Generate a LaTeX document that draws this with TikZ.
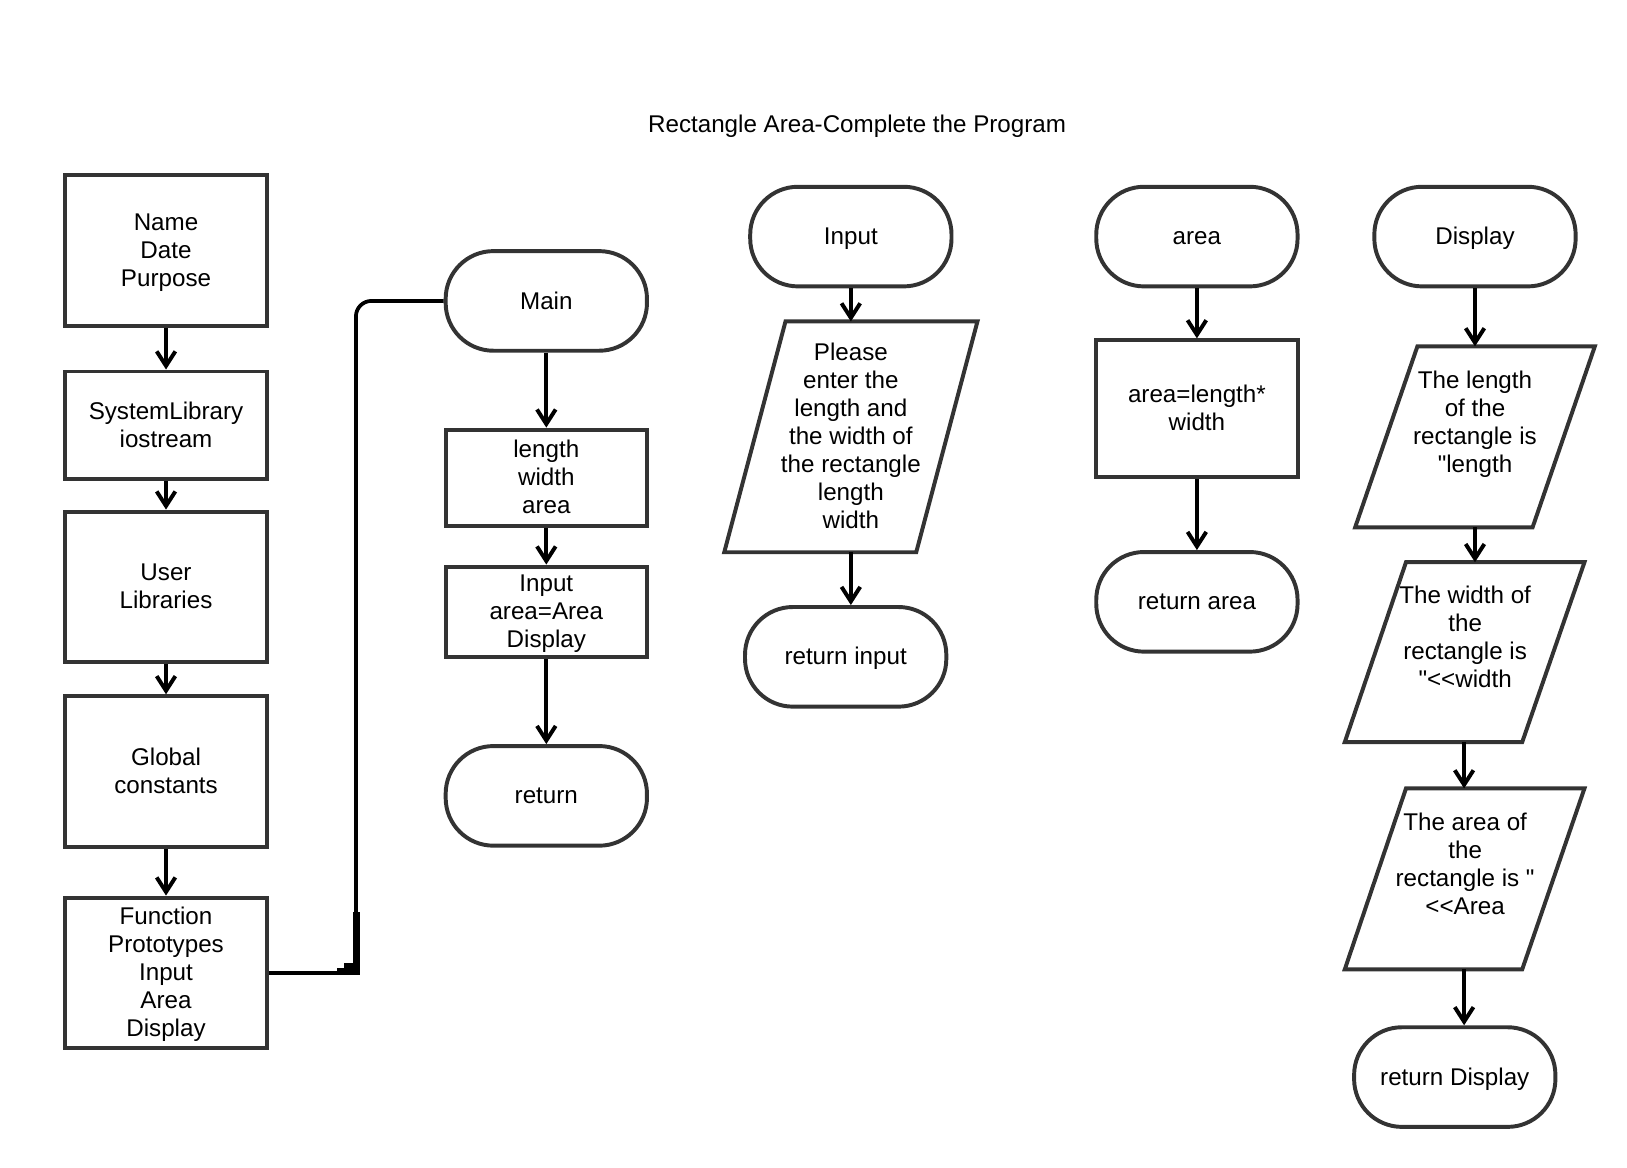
\documentclass[tikz,border=0pt]{standalone}
\usepackage{fontspec}
\setmainfont{Liberation Sans}[Ligatures=TeXOff]
\usetikzlibrary{arrows.meta}
\definecolor{stroke}{HTML}{333333}
\newcommand\drawpara[5]{\draw[pline] ([xshift=#2pt]#1.north) -- ([xshift=#3pt]#1.north) -- ([xshift=#5pt]#1.south) -- ([xshift=#4pt]#1.south) -- cycle;}
\newcommand\lb[1]{\rule{0pt}{21.3pt}#1\rule[-5.7pt]{0pt}{5.7pt}}
\begin{document}
\begin{tikzpicture}[x=1pt,y=-1pt,
  txt/.style={font=\fontsize{23.3}{27}\selectfont, align=center, text=black, inner sep=0pt},
  proc/.style={txt, draw=stroke, line width=3.8pt, minimum width=194pt},
  term/.style={proc, rounded corners=46pt, minimum height=96pt},
  parab/.style={txt, minimum width=20pt, minimum height=#1},
  pline/.style={draw=stroke, line width=3.8pt, line join=miter},
  flow/.style={line width=3.8pt, -{Straight Barb[length=14pt,width=18pt]}},
  conn/.style={line width=3.6pt},
]
\useasboundingbox (0,0) rectangle (1568,1125);

\node[txt] (title) at (826,120) {\lb{Rectangle Area-Complete the Program}};

% column 1
\node[proc, minimum height=145pt] (name) at (160,241.5) {\lb{Name\\Date\\Purpose}};
\node[proc, minimum height=104pt] (sys) at (160,410) {\lb{SystemLibrary\\iostream}};
\node[proc, minimum height=145pt] (user) at (160,565.5) {\lb{User\\Libraries}};
\node[proc, minimum height=145pt] (glob) at (160,743.5) {\lb{Global\\constants}};
\node[proc, minimum height=145pt] (func) at (160,937.5) {\lb{Function\\Prototypes\\Input\\Area\\Display}};

\draw[flow] (name.south) -- (sys.north);
\draw[flow] (sys.south) -- (user.north);
\draw[flow] (user.south) -- (glob.north);
\draw[flow] (glob.south) -- (func.north);

% main column
\node[term] (main) at (526.5,290) {\lb{Main}};
\node[proc, minimum height=93pt] (vars) at (526.5,460.5) {\lb{length\\width\\area}};
\node[proc, minimum height=87pt] (calls) at (526.5,589.5) {\lb{Input\\area=Area\\Display}};
\node[term] (ret) at (526.5,767) {\lb{return}};

\draw[flow] (main.south) -- (vars.north);
\draw[flow] (vars.south) -- (calls.north);
\draw[flow] (calls.south) -- (ret.north);

% connector function prototypes -> main
\coordinate (bend) at (343,937.5);
\draw[conn] (func.east) -- (bend);
\draw[conn, rounded corners=15pt] (bend) |- (main.west);
\fill (340,879) rectangle (347,937);
\fill (332,928) rectangle (347,939);
\fill (325,933) rectangle (347,939.5);

% input column
\node[term] (inp) at (820,228) {\lb{Input}};
\node[parab=222pt] (pin) at (820,421) {\lb{Please\\enter the\\length and\\the width of\\the rectangle\\length\\width}};
\drawpara{pin}{-63}{122}{-122}{63}
\node[term] (rin) at (815,633) {\lb{return input}};
\draw[flow] (inp.south) -- (pin.north);
\draw[flow] (pin.south) -- (pin.south |- rin.north);

% area column
\node[term] (area) at (1153.5,228) {\lb{area}};
\node[proc, minimum height=132pt] (abox) at (1153.5,394) {\lb{area=length*\\width}};
\node[term] (rarea) at (1153.5,580) {\lb{return area}};
\draw[flow] (area.south) -- (abox.north);
\draw[flow] (abox.south) -- (rarea.north);

% display column
\node[term] (disp) at (1421.5,228) {\lb{Display}};
\node[parab=174pt] (d1) at (1421.5,421) {};
\drawpara{d1}{-55.5}{115.5}{-115.5}{55.5}
\node[txt] (d1t) at (1421.5,407.5) {\lb{The length\\of the\\rectangle is\\"length}};
\node[parab=173pt] (d2) at (1411,628.5) {};
\drawpara{d2}{-56}{116}{-115}{56}
\node[txt] (d2t) at (1412,614.5) {\lb{The width of\\the\\rectangle is\\"<<width}};
\node[parab=174pt] (d3) at (1411,847) {};
\drawpara{d3}{-56}{116}{-115}{56}
\node[txt] (d3t) at (1412,833.5) {\lb{The area of\\the\\rectangle is "\\<<Area}};
\node[term] (rdisp) at (1402,1038) {\lb{return Display}};

\draw[flow] (disp.south) -- (d1.north);
\draw[flow] (d1.south) -- (d1.south |- d2.north);
\draw[flow] (d2.south) -- (d3.north);
\draw[flow] (d3.south) -- (d3.south |- rdisp.north);
\end{tikzpicture}
\end{document}
